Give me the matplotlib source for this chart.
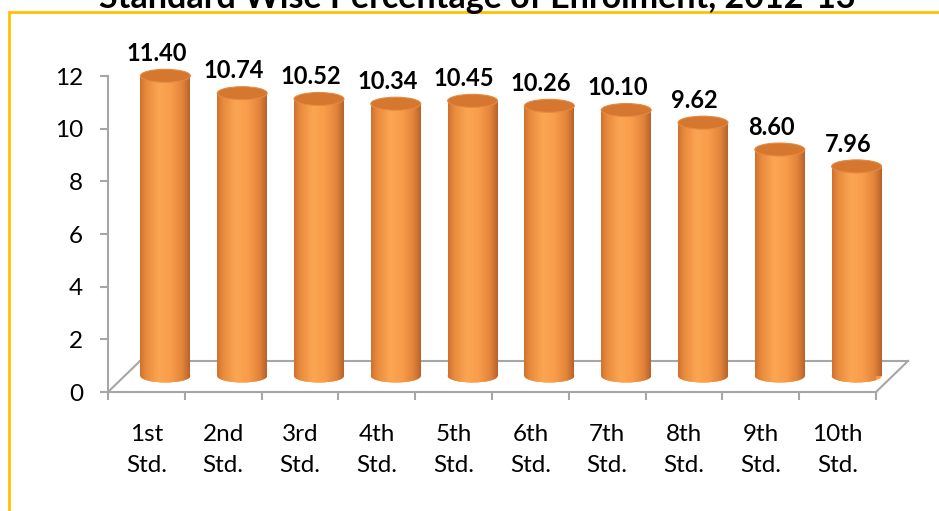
import numpy as np
import matplotlib
matplotlib.use("Agg")
import matplotlib.pyplot as plt
from matplotlib.patches import Rectangle, Ellipse
from matplotlib.colors import LinearSegmentedColormap

categories = ["1st\nStd.", "2nd\nStd.", "3rd\nStd.", "4th\nStd.", "5th\nStd.",
              "6th\nStd.", "7th\nStd.", "8th\nStd.", "9th\nStd.", "10th\nStd."]
values = [11.40, 10.74, 10.52, 10.34, 10.45, 10.26, 10.10, 9.62, 8.60, 7.96]
yticks = [0, 2, 4, 6, 8, 10, 12]
title = "Standard Wise Percentage of Enrolment, 2012-13"

plt.rcParams['font.family'] = ['Lato', 'DejaVu Sans']

W, H = 939, 511
fig = plt.figure(figsize=(W / 100, H / 100), dpi=100)

# axes covering the front plane of the 3-D plot
x0, x1, ytop, ybot = 108, 876, 76, 392
ax = fig.add_axes([x0 / W, (H - ybot) / H, (x1 - x0) / W, (ybot - ytop) / H])
ax.set_xlim(0, len(values))
ax.set_ylim(0, 12)

px_x = len(values) / (x1 - x0)     # data units per pixel
px_y = 12 / (ybot - ytop)

# depth offsets
back_dx, back_dy = 32 * px_x, 31 * px_y
bar_dx, bar_dy = 19 * px_x, 16 * px_y
ell_h = 13 * px_y
bw = 0.65

gray = "#a6a6a6"
for s in ["top", "right", "bottom"]:
    ax.spines[s].set_visible(False)
ax.spines["left"].set_color(gray)
ax.spines["left"].set_linewidth(1.5)

n = len(values)
# floor
floor_kw = dict(color=gray, lw=1.5, clip_on=False, zorder=1)
ax.plot([0, n], [0, 0], **floor_kw)
ax.plot([back_dx, n + back_dx], [back_dy, back_dy], **floor_kw)
ax.plot([0, back_dx], [0, back_dy], **floor_kw)
ax.plot([n, n + back_dx], [0, back_dy], **floor_kw)

cmap = LinearSegmentedColormap.from_list(
    "cyl", [(0.0, "#cf7130"), (0.12, "#e88a3c"), (0.38, "#fba652"),
            (0.62, "#f99c4a"), (0.85, "#e2853b"), (1.0, "#b8622a")])
grad = np.linspace(0, 1, 256).reshape(1, -1)

xc = np.arange(n) + 0.5 + bar_dx
bars = ax.bar(xc, values, width=bw, bottom=bar_dy, color="#f79646",
              zorder=3, clip_on=False)
for b, x, v in zip(bars, xc, values):
    bottom_ell = Ellipse((x, bar_dy), bw, ell_h, facecolor="#f79646",
                         edgecolor="none", zorder=2.9, clip_on=False)
    ax.add_patch(bottom_ell)
    for patch, z in [(b, 3.1), (bottom_ell, 3.0)]:
        im = ax.imshow(grad, cmap=cmap, extent=[x - bw / 2, x + bw / 2, 0, v + bar_dy],
                       aspect="auto", zorder=z, interpolation="bilinear")
        im.set_clip_path(patch)
    top = Ellipse((x, v + bar_dy), bw, ell_h, facecolor="#d5772f",
                  edgecolor="#e58a40", lw=0.8, zorder=3.5, clip_on=False)
    ax.add_patch(top)
    ax.annotate(f"{v:.2f}", xy=(x, v + bar_dy), xytext=(-6, 16),
                textcoords="offset points", ha="center", va="center",
                fontsize=17, fontweight="bold", annotation_clip=False, zorder=5)

ax.set_xlim(0, n)
ax.set_ylim(0, 12)

ax.set_yticks(yticks)
ax.set_yticklabels([str(t) for t in yticks], fontsize=17.5)
ax.tick_params(axis="y", length=6, width=1.5, color=gray, pad=12)

ax.set_xticks(np.arange(n) + 0.5)
ax.set_xticklabels(categories, fontsize=17.5, linespacing=1.6)
ax.set_xticks(np.arange(n + 1), minor=True)
ax.tick_params(axis="x", which="major", length=0, pad=23)
ax.tick_params(axis="x", which="minor", length=6, width=1.5, color=gray)

# outer border (extends beyond figure on right/bottom)
fig.patches.append(Rectangle((9 / W, -0.1), 1.2, (H - 12) / H + 0.1,
                             transform=fig.transFigure, fill=False,
                             edgecolor="#ffc000", lw=2, zorder=0))

fig.text(477 / W, 1 - 8 / H, title, ha="center", va="baseline",
         fontsize=24.5, fontweight="bold")

fig.savefig("out.png", dpi=100)
